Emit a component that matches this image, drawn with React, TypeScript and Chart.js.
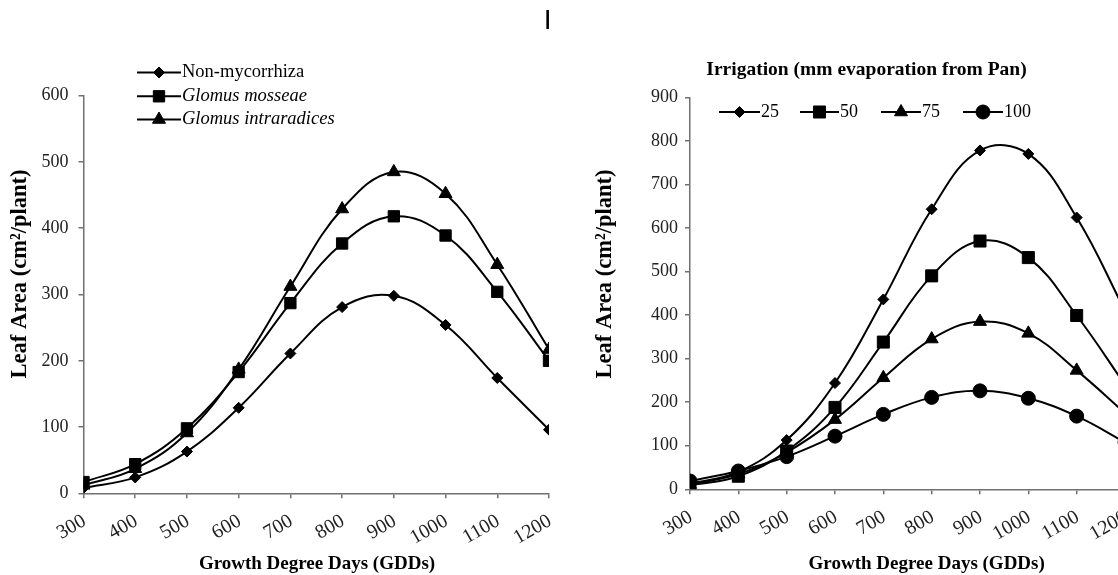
import React, { useEffect, useRef } from "react";
import { Chart, registerables } from "chart.js";

Chart.register(...registerables);

// ---------------- data ----------------
const gddValues = [300, 400, 500, 600, 700, 800, 900, 1000, 1100, 1200];

const nonMycorrhiza = [8, 24, 63, 129, 211, 281, 298, 254, 174, 96];
const glomusMosseae = [17, 44, 98, 183, 287, 377, 418, 389, 304, 200];
const glomusIntraradices = [12, 37, 91, 187, 312, 429, 485, 452, 345, 217];

const irrigation25 = [13, 40, 113, 244, 436, 643, 778, 770, 624, 410];
const irrigation50 = [9, 30, 88, 188, 338, 490, 570, 532, 399, 240];
const irrigation75 = [11, 35, 85, 160, 256, 345, 385, 358, 273, 175];
const irrigation100 = [19, 42, 75, 122, 172, 211, 226, 209, 168, 108];

const leftYTicks = [0, 100, 200, 300, 400, 500, 600];
const rightYTicks = [0, 100, 200, 300, 400, 500, 600, 700, 800, 900];

const leftLabels = ["Non-mycorrhiza", "Glomus mosseae", "Glomus intraradices"];
const rightLabels = ["25", "50", "75", "100"];

const yTitleText = "Leaf Area (cm²/plant)";
const xTitleText = "Growth Degree Days (GDDs)";
const rightTitleText = "Irrigation (mm evaporation from Pan)";
const panelMark = "I";

// ---------------- styles ----------------
const SERIF = '"Liberation Serif", "Times New Roman", serif';
const AXIS = "#707070";
const H = 575;
const LEFT_CANVAS_X = 0;
const LEFT_CANVAS_W = 590;
const RIGHT_CANVAS_X = 592;
const RIGHT_CANVAS_W = 580;

function markerPath(ctx: CanvasRenderingContext2D, style: string, x: number, y: number, r: number) {
  ctx.beginPath();
  if (style === "rectRot") {
    ctx.moveTo(x - r, y);
    ctx.lineTo(x, y - r);
    ctx.lineTo(x + r, y);
    ctx.lineTo(x, y + r);
    ctx.closePath();
  } else if (style === "rect") {
    const s = Math.SQRT1_2 * r;
    ctx.rect(x - s, y - s, 2 * s, 2 * s);
  } else if (style === "triangle") {
    const w = r * Math.sin((2 * Math.PI) / 3);
    ctx.moveTo(x, y - r);
    ctx.lineTo(x + w, y + r / 2);
    ctx.lineTo(x - w, y + r / 2);
    ctx.closePath();
  } else {
    ctx.arc(x, y, r, 0, Math.PI * 2);
  }
}

const decorPlugin = {
  id: "decor",
  afterDraw(chart: any, _args: any, opts: any) {
    const ctx: CanvasRenderingContext2D = chart.ctx;
    ctx.save();
    for (const t of opts.texts || []) {
      ctx.save();
      ctx.translate(t.x, t.y);
      if (t.rotate) ctx.rotate(t.rotate);
      ctx.font = t.font;
      ctx.fillStyle = t.color || "#000";
      ctx.textAlign = t.align || "center";
      ctx.textBaseline = t.baseline || "middle";
      ctx.fillText(t.text, 0, 0);
      ctx.restore();
    }
    const ds = chart.data.datasets;
    (opts.legend || []).forEach((pos: any, i: number) => {
      const d = ds[i];
      if (!d) return;
      ctx.strokeStyle = "#000";
      ctx.lineWidth = 2;
      ctx.beginPath();
      ctx.moveTo(pos.x, pos.y);
      ctx.lineTo(pos.x + pos.len, pos.y);
      ctx.stroke();
      markerPath(ctx, d.pointStyle, pos.x + pos.len / 2, pos.y, d.pointRadius);
      ctx.fillStyle = "#000";
      ctx.fill();
      ctx.lineWidth = 1;
      ctx.stroke();
      ctx.font = pos.font;
      ctx.textAlign = "left";
      ctx.textBaseline = "middle";
      ctx.fillText(d.label, pos.x + pos.len + 1, pos.y);
    });
    ctx.restore();
  },
};

function makeDataset(label: string, values: number[], pointStyle: string, pointRadius: number) {
  return {
    label,
    data: gddValues.map((x, i) => ({ x, y: values[i] })),
    borderColor: "#000",
    backgroundColor: "#000",
    borderWidth: 2,
    pointStyle,
    pointRadius,
    pointBorderWidth: 1,
    pointBorderColor: "#000",
    pointBackgroundColor: "#000",
    tension: 0.4,
    fill: false,
  };
}

function buildConfig(p: any) {
  return {
    type: "line",
    data: { datasets: p.datasets },
    plugins: [decorPlugin],
    options: {
      responsive: false,
      animation: false,
      devicePixelRatio: 1,
      layout: {
        autoPadding: false,
        padding: { top: p.areaTop, right: p.padRight, bottom: 0, left: 0 },
      },
      plugins: {
        legend: { display: false },
        tooltip: { enabled: false },
        title: { display: false },
        decor: { texts: p.texts, legend: p.legend },
      },
      scales: {
        x: {
          type: "linear",
          min: gddValues[0],
          max: gddValues[gddValues.length - 1],
          afterFit: (s: any) => {
            s.height = p.xHeight;
          },
          afterBuildTicks: (s: any) => {
            s.ticks = gddValues.map((v) => ({ value: v }));
          },
          ticks: {
            autoSkip: false,
            minRotation: 30,
            maxRotation: 30,
            padding: 11,
            labelOffset: 1,
            color: "#222",
            font: { family: SERIF, size: 20 },
            callback: (v: any) => String(v),
          },
          grid: {
            display: true,
            drawOnChartArea: false,
            drawTicks: true,
            tickLength: 5,
            color: AXIS,
            lineWidth: 1.5,
          },
          border: { display: true, color: AXIS, width: 1.5 },
        },
        y: {
          type: "linear",
          min: p.yTicks[0],
          max: p.yTicks[p.yTicks.length - 1],
          afterFit: (s: any) => {
            s.width = p.yWidth;
          },
          afterBuildTicks: (s: any) => {
            s.ticks = p.yTicks.map((v: number) => ({ value: v }));
          },
          ticks: {
            padding: p.yTickPad,
            color: "#222",
            font: { family: SERIF, size: 18 },
            callback: (v: any) => String(v),
          },
          grid: {
            display: true,
            drawOnChartArea: false,
            drawTicks: true,
            tickLength: 5,
            color: AXIS,
            lineWidth: 1.5,
          },
          border: { display: true, color: AXIS, width: 1.5 },
        },
      },
    },
  };
}

const leftConfig = () => {
  const ox = LEFT_CANVAS_X;
  return buildConfig({
    datasets: [
      makeDataset(leftLabels[0], nonMycorrhiza, "rectRot", 5.5),
      makeDataset(leftLabels[1], glomusMosseae, "rect", 8),
      makeDataset(leftLabels[2], glomusIntraradices, "triangle", 7.5),
    ],
    yTicks: leftYTicks,
    areaTop: 95.7,
    padRight: LEFT_CANVAS_W - (549 - ox),
    yWidth: 83.5 - ox,
    xHeight: H - 493.3,
    yTickPad: 10,
    texts: [
      { text: panelMark, x: 547.7 - ox, y: 28.7, font: '28px "Liberation Sans", Arial, sans-serif', baseline: "alphabetic" },
      { text: yTitleText, x: 26 - ox, y: 274, rotate: -Math.PI / 2, font: `bold 22.5px ${SERIF}`, baseline: "alphabetic" },
      { text: xTitleText, x: 317 - ox, y: 564, font: `bold 19px ${SERIF}` },
    ],
    legend: [
      { x: 137 - ox, y: 72.5, len: 44, font: `18.5px ${SERIF}` },
      { x: 137 - ox, y: 96.3, len: 44, font: `italic 18.5px ${SERIF}` },
      { x: 137 - ox, y: 119.5, len: 44, font: `italic 18.5px ${SERIF}` },
    ],
  });
};

const rightConfig = () => {
  const ox = RIGHT_CANVAS_X;
  return buildConfig({
    datasets: [
      makeDataset(rightLabels[0], irrigation25, "rectRot", 5.5),
      makeDataset(rightLabels[1], irrigation50, "rect", 8.5),
      makeDataset(rightLabels[2], irrigation75, "triangle", 7.5),
      makeDataset(rightLabels[3], irrigation100, "circle", 7),
    ],
    yTicks: rightYTicks,
    areaTop: 97.3,
    padRight: RIGHT_CANVAS_W - (1125 - ox),
    yWidth: 690 - ox,
    xHeight: H - 489.3,
    yTickPad: 7,
    texts: [
      { text: rightTitleText, x: 866.5 - ox, y: 69.5, font: `bold 19.5px ${SERIF}` },
      { text: yTitleText, x: 611 - ox, y: 274, rotate: -Math.PI / 2, font: `bold 22.5px ${SERIF}`, baseline: "alphabetic" },
      { text: xTitleText, x: 926.7 - ox, y: 564, font: `bold 19px ${SERIF}` },
    ],
    legend: [
      { x: 719 - ox, y: 112, len: 41, font: `18px ${SERIF}` },
      { x: 800 - ox, y: 112, len: 39, font: `18px ${SERIF}` },
      { x: 881 - ox, y: 112, len: 40, font: `18px ${SERIF}` },
      { x: 963 - ox, y: 112, len: 40, font: `18px ${SERIF}` },
    ],
  });
};

function ChartCanvas({ makeConfig, left, width }: { makeConfig: () => any; left: number; width: number }) {
  const ref = useRef<HTMLCanvasElement>(null);
  useEffect(() => {
    if (!ref.current) return;
    const chart = new Chart(ref.current, makeConfig());
    return () => chart.destroy();
  }, []);
  return (
    <canvas
      ref={ref}
      width={width}
      height={H}
      style={{ position: "absolute", left, top: 0, width, height: H }}
    />
  );
}

export default function App() {
  return (
    <div
      style={{
        position: "absolute",
        left: 0,
        top: 0,
        width: 1118,
        height: 575,
        overflow: "hidden",
        background: "#fff",
      }}
    >
      <ChartCanvas makeConfig={leftConfig} left={LEFT_CANVAS_X} width={LEFT_CANVAS_W} />
      <ChartCanvas makeConfig={rightConfig} left={RIGHT_CANVAS_X} width={RIGHT_CANVAS_W} />
    </div>
  );
}
